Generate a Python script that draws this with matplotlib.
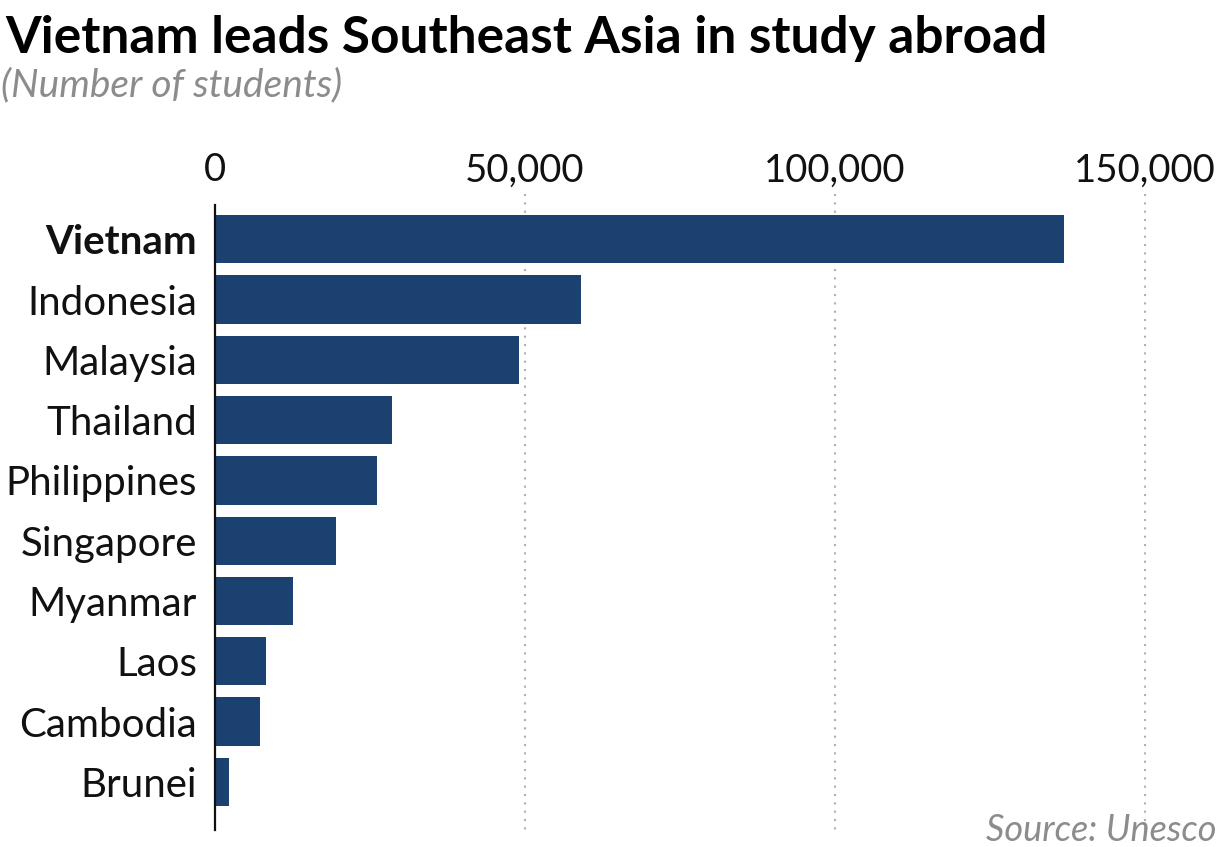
import matplotlib
matplotlib.use('Agg')
from matplotlib import pyplot as plt

countries = ['Vietnam', 'Indonesia', 'Malaysia', 'Thailand', 'Philippines',
             'Singapore', 'Myanmar', 'Laos', 'Cambodia', 'Brunei']
students = [137000, 59000, 49000, 28500, 26200, 19500, 12500, 8300, 7300, 2200]
ticks = [0, 50000, 100000, 150000]
tick_labels = ['0', '50,000', '100,000', '150,000']

bar_color = '#1b4170'
grey = '#8c8c8c'

plt.rcParams['font.family'] = ['Lato', 'DejaVu Sans']

fig = plt.figure(figsize=(12.19, 8.47), dpi=100)
ax = fig.add_axes([0.1764, 0.020, 0.8136, 0.738])

pos = list(range(len(countries)))
ax.barh(pos, students, height=0.8, color=bar_color, zorder=2)

ax.set_xlim(0, 160000)
ax.set_ylim(9.8, -0.57)

# dotted gridlines
ax.vlines(ticks[1:], -0.75, 9.8, colors='#b0b0b0', linestyles=(0, (1, 3)),
          linewidth=1.5, zorder=1, clip_on=False)

ax.xaxis.tick_top()
ax.set_xticks(ticks)
ax.set_xticklabels(tick_labels, fontsize=27.5, color='#111111')
ax.tick_params(axis='x', length=0, pad=12)

ax.set_yticks(pos)
ax.set_yticklabels(countries, fontsize=29, color='#111111')
ax.tick_params(axis='y', length=0, pad=13)
ax.get_yticklabels()[0].set_fontweight('bold')

for s in ['top', 'right', 'bottom']:
    ax.spines[s].set_visible(False)
ax.spines['left'].set_linewidth(1.6)
ax.spines['left'].set_color('#111111')

fig.text(0.004, 0.955, 'Vietnam leads Southeast Asia in study abroad',
         fontsize=37, fontweight='bold', va='center', ha='left')
fig.text(0.001, 0.899, '(Number of students)', fontsize=28, fontstyle='italic',
         color=grey, va='center', ha='left')
fig.text(0.998, 0.019, 'Source: Unesco', fontsize=26, fontstyle='italic',
         color=grey, va='center', ha='right')

fig.savefig('out.png', dpi=100)
